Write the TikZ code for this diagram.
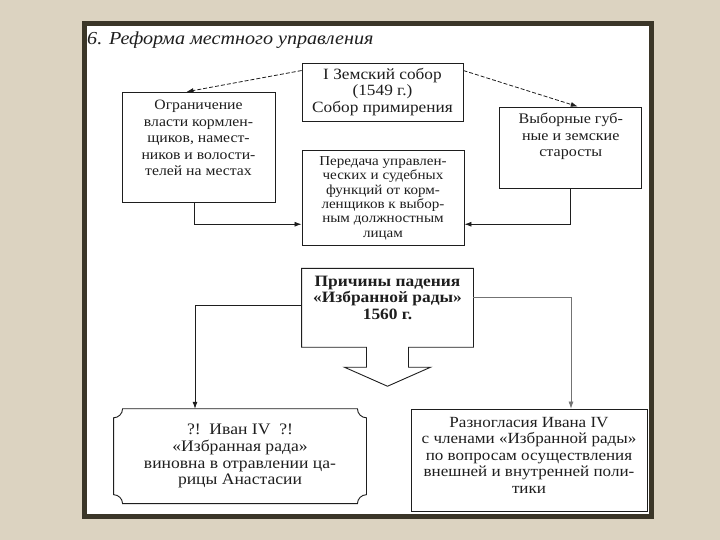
\documentclass[tikz,border=0pt]{standalone}
\usepackage{fontspec}
\setmainfont{Liberation Serif}[FakeStretch=1.1]
\usetikzlibrary{arrows.meta,calc}

\definecolor{slidebg}{HTML}{DCD3C1}
\definecolor{framecol}{HTML}{3B3628}
\definecolor{ink}{HTML}{1E1E1E}

\tikzset{
  box/.style={draw=ink, line width=0.9pt, fill=white, inner sep=0pt},
  txt/.style={align=center, text=ink, inner sep=0pt},
  conn/.style={draw=ink, line width=0.8pt, -{Latex[length=7pt,width=5pt]}},
  dconn/.style={conn, dash pattern=on 4pt off 2pt},
}

\begin{document}
\begin{tikzpicture}[x=1pt,y=1pt]
\useasboundingbox (0,0) rectangle (720,540);
\fill[slidebg] (0,0) rectangle (720,540);
\draw[framecol, line width=5pt, fill=white] (84.5,23.5) rectangle (651.5,516.5);

\node[txt, anchor=base west, font=\itshape\fontsize{18.3}{20}\selectfont] (title) at (87,495) {6. Реформа местного управления};

% upper part
\node[box, minimum width=161pt, minimum height=58pt] (sobor) at (382.5,448) {};
\node[txt, font=\fontsize{15.7}{16.5}\selectfont] (soborT) at (sobor) {I Земский собор\\(1549 г.)\\Собор примирения};

\node[box, minimum width=153pt, minimum height=110pt] (limit) at (198.5,392.75) {};
\node[txt, font=\fontsize{14.3}{16.5}\selectfont] (limitT) at ([yshift=9pt]limit.center) {Ограничение\\власти кормлен-\\щиков, намест-\\ников и волости-\\телей на местах};

\node[box, minimum width=142pt, minimum height=81pt] (elect) at (570.75,392.5) {};
\node[txt, font=\fontsize{14.6}{16.5}\selectfont] (electT) at ([yshift=11pt]elect.center) {Выборные губ-\\ные и земские\\старосты};

\node[box, minimum width=162pt, minimum height=95pt] (transfer) at (383,341.75) {};
\node[txt, font=\fontsize{13.7}{14.3}\selectfont] (transferT) at (transfer) {Передача управлен-\\ческих и судебных\\функций от корм-\\ленщиков к выбор-\\ным должностным\\лицам};

\draw[dconn] ([yshift=-8pt]sobor.north west) -- ([xshift=-12pt]limit.north);
\draw[dconn] ([yshift=-8pt]sobor.north east) -- ([xshift=7pt]elect.north);
\draw[conn] ([xshift=-4pt]limit.south) |- ([yshift=-26pt]transfer.west);
\draw[conn] (elect.south) |- ([yshift=-26pt]transfer.east);

% lower part
\node[box, draw=none, minimum width=171pt, minimum height=78pt] (fall) at (387.5,232.2) {};
\draw[ink, line width=0.9pt] (fall.south west) -- (fall.north west) -- (fall.north east) -- (fall.south east)
  -- ([xshift=21pt]fall.south) -- ([xshift=21pt,yshift=-20pt]fall.south) -- ([xshift=43pt,yshift=-20pt]fall.south)
  -- ([yshift=-39pt]fall.south)
  -- ([xshift=-43pt,yshift=-20pt]fall.south) -- ([xshift=-21pt,yshift=-20pt]fall.south) -- ([xshift=-21pt]fall.south) -- cycle;
\node[txt, font=\bfseries\fontsize{15.8}{16.3}\selectfont] (fallT) at ([yshift=10pt]fall.center) {Причины падения\\«Избранной рады»\\1560 г.};

\node[box, draw=none, minimum width=252pt, minimum height=94pt] (poison) at (240,83.75) {};
\draw[ink, line width=0.9pt] ([yshift=-9pt]poison.north west) arc[start angle=-90, end angle=0, radius=9pt]
  -- ([xshift=-9pt]poison.north east) arc[start angle=180, end angle=270, radius=9pt]
  -- ([yshift=9pt]poison.south east) arc[start angle=90, end angle=180, radius=9pt]
  -- ([xshift=9pt]poison.south west) arc[start angle=0, end angle=90, radius=9pt] -- cycle;
\node[txt, font=\fontsize{16}{16.6}\selectfont] (poisonT) at (poison) {?!\ \ Иван IV\ \ ?!\\«Избранная рада»\\виновна в отравлении ца-\\рицы Анастасии};

\node[box, minimum width=236pt, minimum height=102pt] (discord) at (529,80) {};
\node[txt, font=\fontsize{15.5}{16.5}\selectfont] (discordT) at ([yshift=5pt]discord.center) {Разногласия Ивана IV\\с членами «Избранной рады»\\по вопросам осуществления\\внешней и внутренней поли-\\тики};

\draw[conn] ([yshift=2pt]fall.west) -| ([xshift=-45pt]poison.north);
\draw[conn, draw=black!55, line width=0.6pt] ([yshift=10pt]fall.east) -| ([xshift=42pt]discord.north);
\end{tikzpicture}
\end{document}
